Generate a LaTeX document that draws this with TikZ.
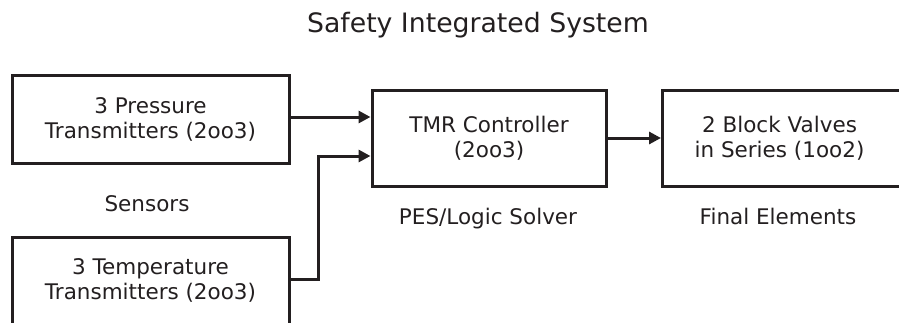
\documentclass[tikz,border=0pt]{standalone}
\usepackage{fontspec}
\setmainfont{DejaVu Sans}
\usepackage{tikz}
\usetikzlibrary{arrows.meta}
\definecolor{ink}{HTML}{231F20}

\begin{document}
\begin{tikzpicture}[x=1pt,y=1pt,
    box/.style={draw=ink,line width=3pt,align=center,text=ink,
      font=\fontsize{21.5}{25.5}\selectfont,minimum width=277,minimum height=87},
    tag/.style={anchor=base,text=ink,font=\fontsize{21.5}{25.5}\selectfont},
    arr/.style={draw=ink,line width=3pt,-{Triangle[length=12pt,width=12pt]}}]
  \useasboundingbox (0,0) rectangle (899,322);
  \clip (0,0) rectangle (899,322);
  \node[tag,font=\fontsize{26.7}{30}\selectfont] (title) at (478,289) {Safety Integrated System};
  \node[box] (press) at (150.5,202.5) {3 Pressure\\Transmitters (2oo3)};
  \node[box] (temp) at (150.5,41.5) {3 Temperature\\Transmitters (2oo3)};
  \node[box,minimum width=234,minimum height=96] (ctrl) at (489,184) {TMR Controller\\(2oo3)};
  \node[box,minimum width=262,minimum height=96,anchor=west] (valves) at (661,184)
    {2 Block Valves\hspace*{28pt}\\in Series (1oo2)\hspace*{28pt}};
  \node[tag] (sensors) at (147,110.3) {Sensors};
  \node[tag] (solver) at (488,98) {PES/Logic Solver};
  \node[tag] (final) at (778,98) {Final Elements};
  \draw[arr] ([yshift=2.5]press.east) -- ([yshift=21]ctrl.west);
  \draw[arr] ([yshift=1.5]temp.east) -- ++(28,0) |- ([yshift=-18]ctrl.west);
  \draw[arr] (ctrl.east) -- (valves.west);
\end{tikzpicture}
\end{document}
